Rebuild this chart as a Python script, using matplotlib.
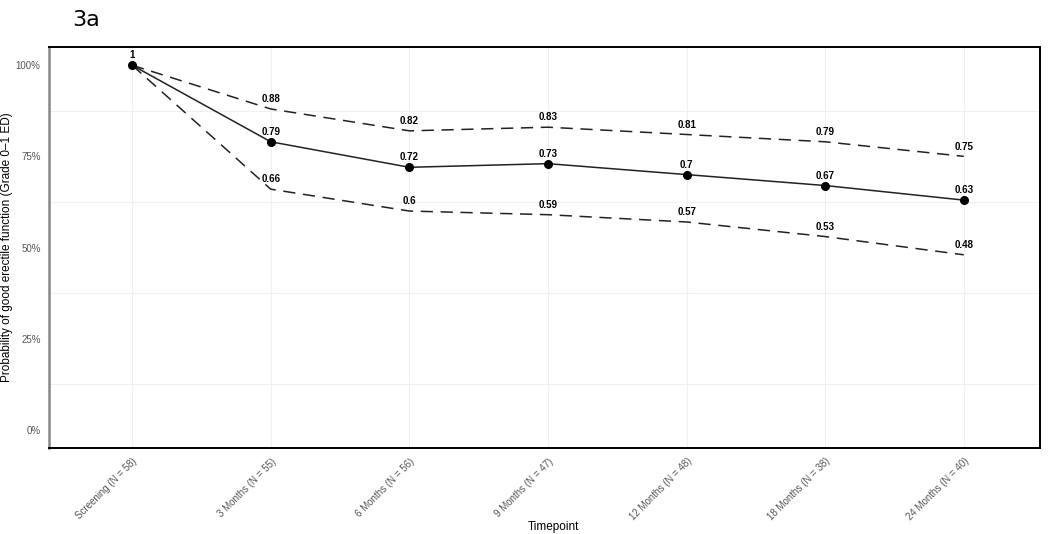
import matplotlib.pyplot as plt
import numpy as np

plt.rcParams['font.family'] = ['Liberation Sans', 'DejaVu Sans']

# timepoints and estimates
timepoints = ["Screening (N = 58)", "3 Months (N = 55)", "6 Months (N = 56)",
              "9 Months (N = 47)", "12 Months (N = 48)", "18 Months (N = 38)",
              "24 Months (N = 40)"]
estimate = [1, 0.79, 0.72, 0.73, 0.70, 0.67, 0.63]
upper = [1, 0.88, 0.82, 0.83, 0.81, 0.79, 0.75]
lower = [1, 0.66, 0.60, 0.59, 0.57, 0.53, 0.48]

x = np.arange(len(timepoints))

fig = plt.figure(figsize=(10.5, 5.34), dpi=100)
ax = fig.add_axes([49 / 1050, 1 - 448 / 534, (1040 - 49) / 1050, (448 - 47) / 534])

# faint grid: vertical at categories, horizontal at minor positions
for xi in x:
    ax.axvline(xi, color="#f0f0f0", lw=0.8, zorder=0)
for yv in [0.125, 0.375, 0.625, 0.875]:
    ax.axhline(yv, color="#f0f0f0", lw=0.8, zorder=0)

ax.plot(x, upper, color="#222222", lw=1.1, dashes=(8, 5))
ax.plot(x, lower, color="#222222", lw=1.1, dashes=(8, 5))
ax.plot(x, estimate, color="#222222", lw=1.1, marker="o", ms=5.5, mfc="black", mec="black")

def fmt(v):
    return f"{v:g}"

for series in (estimate, upper, lower):
    for xi, v in zip(x, series):
        if xi == 0 and series is not estimate:
            continue
        ax.annotate(fmt(v), (xi, v), xytext=(0, 3.5), textcoords="offset points",
                    ha="center", va="bottom", fontsize=7, fontweight="bold", color="black")

ax.set_xlim(-0.6, 6.55)
ax.set_ylim(-0.05, 1.05)
ax.set_yticks([0, 0.25, 0.5, 0.75, 1.0])
ax.set_yticklabels(["0%", "25%", "50%", "75%", "100%"])
ax.set_xticks(x)
ax.set_xticklabels(timepoints, rotation=45, ha="right", rotation_mode="anchor")
ax.tick_params(axis="both", length=0, labelsize=7, labelcolor="#555555", pad=6)

ax.set_xlabel("Timepoint", fontsize=8.5)
ax.xaxis.set_label_coords((553 - 49) / 991, -(527 - 448) / 401)
ax.xaxis.label.set_va("center")
ax.set_ylabel("Probability of good erectile function (Grade 0\u20131 ED)", fontsize=8.5)
ax.yaxis.set_label_coords(-(49 - 13) / 991, 0.5)

for side in ["top", "right", "bottom"]:
    ax.spines[side].set_color("black")
    ax.spines[side].set_linewidth(1.4)
ax.spines["left"].set_color("#888888")
ax.spines["left"].set_linewidth(1.8)

fig.text(72 / 1050, 1 - 20 / 534, "3a", fontsize=16, va="center", ha="left",
         family=["DejaVu Sans"])

fig.savefig("out.png", dpi=100)
